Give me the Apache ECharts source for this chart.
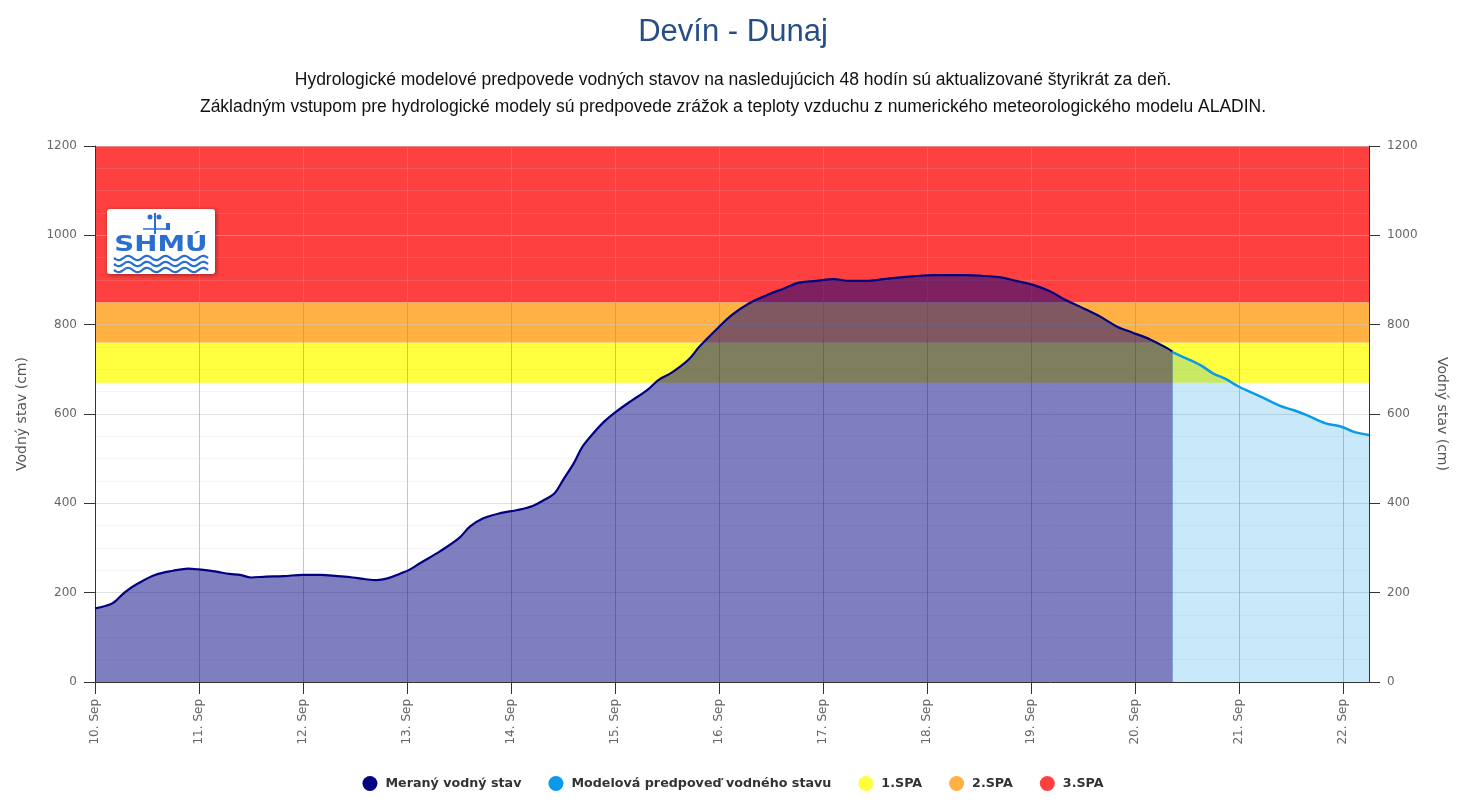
<!DOCTYPE html>
<html>
<head>
<meta charset="utf-8">
<script src="https://cdn.jsdelivr.net/npm/echarts@6/dist/echarts.min.js"></script>
<style>html,body{margin:0;padding:0;background:#fff}#chart{width:1466px;height:806px}</style>
</head>
<body>
<div id="chart"></div>
<script>
// Hours since 10. Sep 00:00
const dayTicks = [0, 24, 48, 72, 96, 120, 144, 168, 192, 216, 240, 264, 288];
const dayLabels = ['10. Sep', '11. Sep', '12. Sep', '13. Sep', '14. Sep', '15. Sep', '16. Sep', '17. Sep', '18. Sep', '19. Sep', '20. Sep', '21. Sep', '22. Sep'];
const axisMaxHours = 294;

const measuredHours = [0, 4, 7, 10, 14, 18, 21.5, 24, 28, 31, 33.5, 36, 39.5, 43.5, 48, 52, 56, 59.5, 62.5, 65, 67.5, 70.5, 72.5, 75, 79.5, 84, 86.5, 89.5, 93.5, 97.5, 101, 103.5, 106, 108, 110.5, 112.5, 115, 117.5, 120.5, 124, 127.5, 130, 133, 137, 139.5, 144, 147, 151, 155, 159, 162.5, 166.5, 170.5, 174, 178, 182, 186, 189.5, 193.5, 197.5, 201, 205, 209, 212.5, 216.5, 220.5, 224, 228, 232, 236, 239.5, 243.5, 247.5, 248.7];
const measuredLevel = [165, 176, 202, 221, 240, 249, 254, 252, 247, 242, 240, 234, 236, 237, 240, 240, 237, 234, 230, 228, 232, 243, 251, 266, 292, 322, 348, 366, 378, 385, 394, 407, 422, 452, 490, 527, 557, 583, 607, 631, 654, 676, 692, 722, 751, 795, 822, 848, 866, 881, 894, 898, 902, 898, 898, 902, 906, 909, 911, 911, 911, 909, 906, 898, 889, 874, 855, 837, 818, 795, 782, 767, 747, 739];

const forecastHours = [248.5, 251, 255, 258, 261, 264, 269, 273.5, 276.5, 279.5, 284, 287.5, 290.5, 294];
const forecastLevel = [739, 728, 710, 691, 678, 661, 639, 618, 609, 598, 579, 572, 560, 553];

// Flood activity levels (cm)
const spaNames = ['1.SPA', '2.SPA', '3.SPA'];
const spaLower = [670, 760, 850];
const spaUpper = [760, 850, 1200];
const spaColors = ['#ffff40', '#ffb143', '#ff4040'];

const chart = echarts.init(document.getElementById('chart'));
const pair = (xs, ys) => xs.map((x, i) => [x, ys[i]]);

const bandSeries = spaNames.map((n, i) => ({
  name: n, type: 'custom', z: 0, silent: true,
  itemStyle: { color: spaColors[i] },
  data: [[0, spaLower[i], axisMaxHours, spaUpper[i]]],
  renderItem: (params, api) => {
    const p0 = api.coord([api.value(0), api.value(1)]);
    const p1 = api.coord([api.value(2), api.value(3)]);
    return { type: 'rect', shape: { x: p0[0], y: p1[1], width: p1[0] - p0[0], height: p0[1] - p1[1] },
      style: { fill: spaColors[i] } };
  },
  encode: { x: [0, 2], y: [1, 3] }
}));

const labelFont = { fontFamily: 'DejaVu Sans', fontSize: 12, color: '#666' };
const nameFont = { fontFamily: 'DejaVu Sans', fontSize: 14, color: '#555' };

// decorative logo waves
function wave(y) {
  const pts = [];
  for (let x = 114; x <= 208; x += 2) pts.push([x, y + 2.2 * Math.sin((x - 114) / 94 * Math.PI * 2 * 5)]);
  return { type: 'polyline', shape: { points: pts, smooth: 0.3 }, style: { stroke: '#2a6fd0', lineWidth: 2.2, fill: null }, z: 101 };
}

chart.setOption({
  animation: false,
  title: [{
    text: 'Devín - Dunaj', left: 'center', top: 12,
    textStyle: { fontFamily: 'Liberation Sans', fontSize: 31, fontWeight: 'normal', color: '#274d87' }
  }],
  legend: {
    bottom: 10, left: 'center', icon: 'circle', itemWidth: 15, itemHeight: 15, itemGap: 27,
    textStyle: { fontFamily: 'DejaVu Sans', fontSize: 12.7, fontWeight: 'bold', color: '#333', padding: [0, 0, 0, 3] },
    data: [
      { name: 'Meraný vodný stav', itemStyle: { color: '#000080' } },
      { name: 'Modelová predpoveď vodného stavu', itemStyle: { color: '#0a9ae8' } },
      { name: '1.SPA', itemStyle: { color: spaColors[0] } },
      { name: '2.SPA', itemStyle: { color: spaColors[1] } },
      { name: '3.SPA', itemStyle: { color: spaColors[2] } }
    ]
  },
  grid: { left: 95, right: 97, top: 146, bottom: 124, containLabel: false },
  xAxis: {
    type: 'value', min: 0, max: axisMaxHours, z: 1,
    axisLine: { show: true, lineStyle: { color: '#333', width: 1 } },
    axisTick: { show: true, length: 12, lineStyle: { color: '#333' }, customValues: dayTicks },
    axisLabel: Object.assign({ rotate: 90, margin: 17, customValues: dayTicks,
      formatter: v => { const i = dayTicks.indexOf(v); return i >= 0 ? dayLabels[i] : ''; } }, labelFont),
    splitLine: { show: true, lineStyle: { color: 'rgba(150,150,150,0.55)', width: 1 } }
  },
  yAxis: [{
    type: 'value', min: 0, max: 1200, interval: 200, position: 'left', z: 1,
    name: 'Vodný stav (cm)', nameLocation: 'middle', nameGap: 66, nameRotate: 90,
    nameTextStyle: nameFont,
    axisLine: { show: true, lineStyle: { color: '#333' } },
    axisTick: { show: true, length: 11, lineStyle: { color: '#333' } },
    axisLabel: Object.assign({ margin: 18, formatter: v => String(v) }, labelFont),
    splitLine: { show: true, lineStyle: { color: 'rgba(200,200,200,0.55)' } },
    minorTick: { show: false, splitNumber: 4 },
    minorSplitLine: { show: true, lineStyle: { color: 'rgba(200,200,200,0.18)' } }
  }, {
    type: 'value', min: 0, max: 1200, interval: 200, position: 'right', z: 1,
    name: 'Vodný stav (cm)', nameLocation: 'middle', nameGap: 66, nameRotate: -90,
    nameTextStyle: nameFont,
    axisLine: { show: true, lineStyle: { color: '#333' } },
    axisTick: { show: true, length: 11, lineStyle: { color: '#333' } },
    axisLabel: Object.assign({ margin: 18, formatter: v => String(v) }, labelFont),
    splitLine: { show: false }
  }],
  series: bandSeries.concat([{
    name: 'Meraný vodný stav', type: 'line', z: 2, symbol: 'none', smooth: 0.35,
    itemStyle: { color: '#000080' },
    lineStyle: { color: '#000080', width: 2.2 },
    areaStyle: { color: 'rgba(0,0,128,0.5)', opacity: 1 },
    data: pair(measuredHours, measuredLevel)
  }, {
    name: 'Modelová predpoveď vodného stavu', type: 'line', z: 2, symbol: 'none', smooth: 0.35,
    itemStyle: { color: '#0a9ae8' },
    lineStyle: { color: '#0a9ae8', width: 2.5 },
    areaStyle: { color: 'rgba(0,150,238,0.21)', opacity: 1 },
    data: pair(forecastHours, forecastLevel)
  }]),
  graphic: [
    { type: 'text', x: 733, y: 80,
      style: { text: 'Hydrologické modelové predpovede vodných stavov na nasledujúcich 48 hodín sú aktualizované štyrikrát za deň.',
        fontFamily: 'Liberation Sans', fontSize: 17.5, fill: '#111', align: 'center', verticalAlign: 'middle' } },
    { type: 'text', x: 733, y: 107,
      style: { text: 'Základným vstupom pre hydrologické modely sú predpovede zrážok a teploty vzduchu z numerického meteorologického modelu ALADIN.',
        fontFamily: 'Liberation Sans', fontSize: 17.5, fill: '#111', align: 'center', verticalAlign: 'middle' } },
    { type: 'rect', shape: { x: 107, y: 209, width: 108, height: 65, r: 3 },
      style: { fill: '#fff', shadowBlur: 4, shadowOffsetX: 1, shadowOffsetY: 1, shadowColor: 'rgba(0,0,0,0.45)' }, z: 100 },
    { type: 'line', shape: { x1: 155, y1: 213, x2: 155, y2: 234 }, style: { stroke: '#2a6fd0', lineWidth: 2 }, z: 101 },
    { type: 'line', shape: { x1: 143, y1: 229, x2: 170, y2: 229 }, style: { stroke: '#2a6fd0', lineWidth: 1.5 }, z: 101 },
    { type: 'rect', shape: { x: 166, y: 223, width: 4, height: 7 }, style: { fill: '#2a6fd0' }, z: 101 },
    { type: 'circle', shape: { cx: 150, cy: 217, r: 2.5 }, style: { fill: '#2a6fd0' }, z: 101 },
    { type: 'circle', shape: { cx: 159, cy: 217, r: 2.5 }, style: { fill: '#2a6fd0' }, z: 101 },
    { type: 'text', x: 161, y: 246, scaleX: 1.32,
      style: { text: 'SHMÚ', fontFamily: 'DejaVu Sans', fontWeight: 'bold', fontSize: 21, fill: '#2a6fd0', align: 'center', verticalAlign: 'middle' }, z: 101 },
    wave(258), wave(264), wave(270)
  ]
});
</script>
</body>
</html>
